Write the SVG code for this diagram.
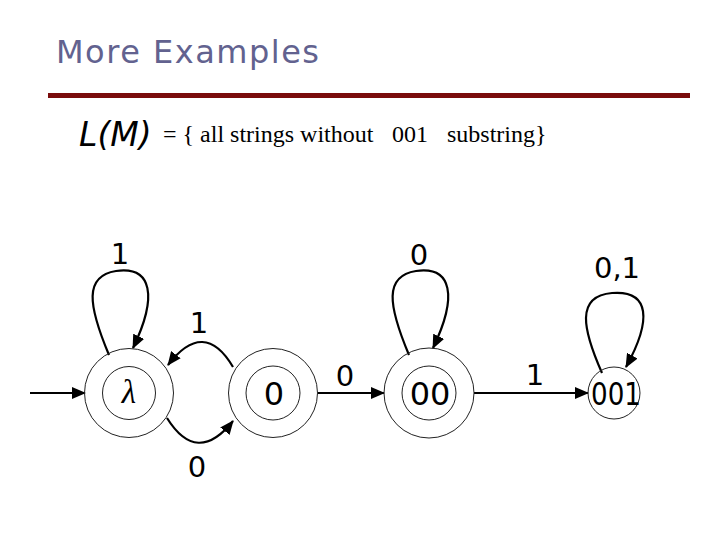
<svg xmlns="http://www.w3.org/2000/svg" width="720" height="540" viewBox="0 0 720 540">
<style>
.title{font-family:"DejaVu Sans","Liberation Sans",sans-serif;font-size:32px;fill:#62628f;letter-spacing:1.5px}
.body{font-family:"Liberation Serif","Times New Roman",serif;font-size:24px;fill:#000}
.lm{font-family:"DejaVu Sans","Liberation Sans",sans-serif;font-style:italic;font-size:33px;fill:#000}
.st{fill:none;stroke:#222;stroke-width:1}
.nl{font-family:"DejaVu Sans","Liberation Sans",sans-serif;font-size:32px;fill:#000;text-anchor:middle}
.el{font-family:"DejaVu Sans","Liberation Sans",sans-serif;font-size:29px;fill:#000;text-anchor:middle}
.e{fill:none;stroke:#000;stroke-width:2.2}
</style>
<defs>
<marker id="ah" markerUnits="userSpaceOnUse" markerWidth="14" markerHeight="12" refX="13" refY="6" orient="auto">
<path d="M0,0 L14,6 L0,12 Z" fill="#000"/>
</marker>
</defs>
<rect width="720" height="540" fill="#fff"/>
<text class="title" x="56" y="63">More Examples</text>
<rect x="48" y="93" width="642" height="5" fill="#7a0c0c"/>
<text class="lm" x="79" y="146">L(M)</text>
<text class="body" x="163" y="142">= { all strings without</text>
<text class="body" x="392" y="142">001</text>
<text class="body" x="447" y="142">substring}</text>

<g id="connectors">
<path class="e" d="M30,393 L85,393" marker-end="url(#ah)"/>
<path class="e" d="M109,355 C88,305 84,276 116,271 C152,266 158,296 133,348" marker-end="url(#ah)"/>
<path class="e" d="M233,367 Q204,318 168,365" marker-end="url(#ah)"/>
<path class="e" d="M167,418 Q197,466 233,421" marker-end="url(#ah)"/>
<path class="e" d="M318,393 L384,393" marker-end="url(#ah)"/>
<path class="e" d="M409,355 C388,305 384,276 416,271 C452,266 458,296 433,348" marker-end="url(#ah)"/>
<path class="e" d="M474,393 L588,393" marker-end="url(#ah)"/>
<path class="e" d="M602,373 C583,330 575,296 612,293 C650,290 652,320 626,367" marker-end="url(#ah)"/>
</g>
<g id="edge-labels">
<text class="el" x="120" y="264">1</text>
<text class="el" x="199" y="333">1</text>
<text class="el" x="197" y="477">0</text>
<text class="el" x="345" y="386">0</text>
<text class="el" x="419" y="265">0</text>
<text class="el" x="535" y="385">1</text>
<text class="el" x="617" y="278">0,1</text>
</g>

<g id="q-lambda">
<circle class="st" cx="129" cy="393" r="44.5"/>
<circle class="st" cx="129" cy="393" r="26.5"/>
<text x="129" y="403" text-anchor="middle" font-family="Liberation Serif,serif" font-style="italic" font-size="33">λ</text>
</g>
<g id="q-0">
<circle class="st" cx="273" cy="393" r="44.5"/>
<circle class="st" cx="273" cy="393" r="27"/>
<text class="nl" x="274" y="405">0</text>
</g>
<g id="q-00">
<circle class="st" cx="429" cy="393" r="45"/>
<circle class="st" cx="429" cy="393" r="27"/>
<text class="nl" x="430" y="405">00</text>
</g>
<g id="q-001">
<circle class="st" cx="614" cy="393" r="26"/>
<text class="nl" x="616" y="405" textLength="50" lengthAdjust="spacingAndGlyphs">001</text>
</g>
</svg>
